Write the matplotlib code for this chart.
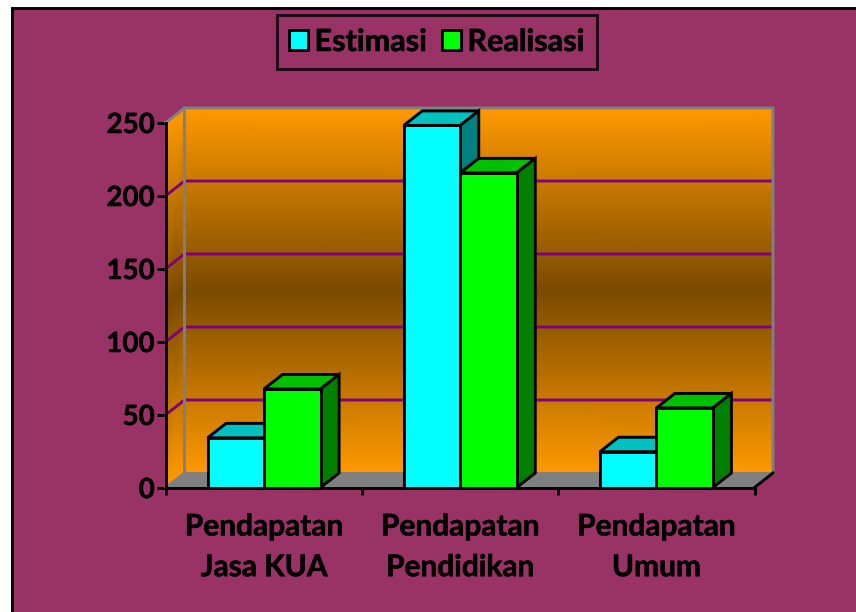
import matplotlib
matplotlib.use('Agg')
import matplotlib.pyplot as plt
import matplotlib.patheffects as pe
import numpy as np
from matplotlib.colors import LinearSegmentedColormap
from matplotlib.patches import Polygon, Rectangle

categories = ['Pendapatan\nJasa KUA', 'Pendapatan\nPendidikan', 'Pendapatan\nUmum']
estimasi = [34, 248, 24.5]
realisasi = [67.5, 215.5, 54.5]
y_ticks = [0, 50, 100, 150, 200, 250]

W, H = 856, 612
LW = 2.1
plt.rcParams['font.family'] = ['Lato', 'DejaVu Sans']
plt.rcParams['font.weight'] = 'bold'
heavy = [pe.withStroke(linewidth=0.4, foreground='black')]

fig = plt.figure(figsize=(W / 100, H / 100), dpi=100, facecolor='white')
fig.add_artist(Rectangle((12 / W, 0 - 0.01), 1, (H - 8) / H + 0.01, transform=fig.transFigure,
                         facecolor='#993366', edgecolor='black', linewidth=LW, zorder=-1))

# front plane of the fake 3d box, in pixels
left, right, top, bottom = 166, 754.5, 122.5, 487.5
ax = fig.add_axes([left / W, 1 - bottom / H, (right - left) / W, (bottom - top) / H])
ax.set_xlim(0, 3)
ax.set_ylim(0, 250)
ax.patch.set_visible(False)

# depth of the box in data units
dx = 18.5 / (right - left) * 3
dy = 14.5 / (bottom - top) * 250

cmap = LinearSegmentedColormap.from_list('wall', ['#7a4a00', '#ff9900'])
levels = np.array([0, 125, 250])
shade = np.abs(levels - 125) / 125

# back wall
X, Y = np.meshgrid([dx, 3 + dx], levels + dy)
ax.pcolormesh(X, Y, np.column_stack([shade, shade]), cmap=cmap, vmin=0, vmax=1,
              shading='gouraud', clip_on=False, zorder=1)
# side wall
X = np.column_stack([np.zeros(3), np.full(3, dx)])
Y = np.column_stack([levels, levels + dy])
ax.pcolormesh(X, Y, np.column_stack([shade, shade]), cmap=cmap, vmin=0, vmax=1,
              shading='gouraud', clip_on=False, zorder=1)
# floor
ax.add_patch(Polygon([(0, 0), (dx, dy), (3 + dx, dy), (3, 0)], facecolor='#808080',
                     edgecolor='none', clip_on=False, zorder=1.5))

for v in y_ticks[1:-1]:
    ax.plot([0, dx, 3 + dx], [v, v + dy, v + dy], color='#800080', lw=LW, clip_on=False, zorder=2)

grey = dict(color='#808080', lw=LW, clip_on=False, zorder=2.5, solid_joinstyle='miter')
ax.plot([0, dx, 3 + dx, 3 + dx], [250, 250 + dy, 250 + dy, dy], **grey)
ax.plot([dx, dx, 0], [250 + dy, dy, 0], **grey)
ax.plot([dx, 3 + dx], [dy, dy], **grey)
ax.plot([3, 3 + dx], [0, dy], color='black', lw=LW, clip_on=False, zorder=2.6)

# bars, with the top and side faces added by hand
pos = np.arange(3) + 0.5
bw = 0.288
edge = dict(edgecolor='black', linewidth=LW, joinstyle='miter', clip_on=False)


def bar_3d(xs, vals, front, roof, side, label, z):
    bars = ax.bar(xs, vals, bw, color=front, label=label, zorder=z + 0.2, **edge)
    for x, v in zip(xs, vals):
        x0, x1 = x - bw / 2, x + bw / 2
        ax.add_patch(Polygon([(x0, v), (x0 + dx, v + dy), (x1 + dx, v + dy), (x1, v)],
                             facecolor=roof, zorder=z, **edge))
        ax.add_patch(Polygon([(x1, 0), (x1 + dx, dy), (x1 + dx, v + dy), (x1, v)],
                             facecolor=side, zorder=z, **edge))
    return bars


b1 = bar_3d(pos - bw / 2, estimasi, '#00ffff', '#00c0c0', '#008080', 'Estimasi', 3)
b2 = bar_3d(pos + bw / 2, realisasi, '#00ff00', '#00c000', '#008000', 'Realisasi', 4)

ax.set_yticks(y_ticks)
ax.set_xticks([0, 1, 2, 3], labels=[])
ax.set_xticks(pos, labels=categories, minor=True)
ax.tick_params(axis='y', length=6.5, width=LW, pad=1.5, labelsize=20, direction='out')
ax.tick_params(axis='x', which='major', length=5, width=LW, direction='out')
ax.tick_params(axis='x', which='minor', length=0, pad=18, labelsize=21.5)
for lab in ax.get_xticklabels(minor=True):
    lab.set_linespacing(1.55)
for lab in ax.get_yticklabels() + ax.get_xticklabels(minor=True):
    lab.set_fontweight('bold')
    lab.set_path_effects(heavy)
for s in ['top', 'right']:
    ax.spines[s].set_visible(False)
for s in ['left', 'bottom']:
    ax.spines[s].set_linewidth(LW)
    ax.spines[s].set_zorder(2.7)

leg = fig.legend(handles=[b1, b2], labels=['Estimasi', 'Realisasi'], ncols=2,
                 loc='center', bbox_to_anchor=(437 / W, 1 - 42 / H),
                 prop={'family': 'Lato', 'weight': 'bold', 'size': 22},
                 facecolor='none', edgecolor='black', fancybox=False,
                 handlelength=0.6, handleheight=0.65, handletextpad=0.22, columnspacing=0.5,
                 borderpad=0.42, borderaxespad=0)
leg.get_frame().set_linewidth(LW)
for t in leg.get_texts():
    t.set_path_effects(heavy)

fig.savefig('out.png', dpi=100, facecolor=fig.get_facecolor())
